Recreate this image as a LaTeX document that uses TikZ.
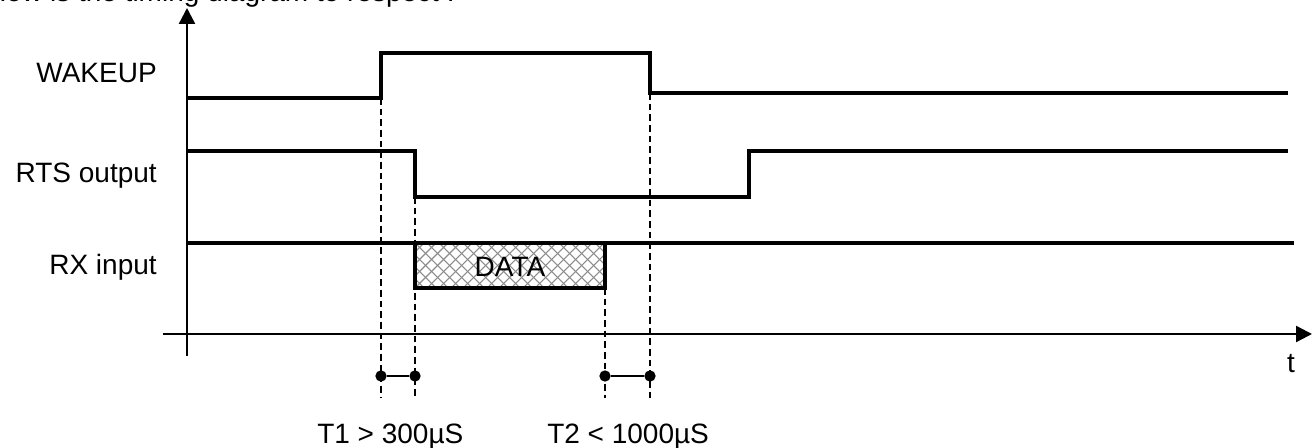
\documentclass[tikz,border=0pt]{standalone}
\usepackage{fontspec}
\setmainfont{Liberation Sans}
\usetikzlibrary{arrows.meta}
\begin{document}
\begin{tikzpicture}[x=0.75pt,y=-0.75pt,
  sig/.style={line width=2.3pt, line join=miter},
  axis/.style={line width=1.7pt, -{Triangle[length=12pt,width=12pt]}},
  guide/.style={line width=1.1pt, dash pattern=on 5pt off 3pt},
  hatch/.style={line width=0.8pt, black!45},
  lbl/.style={font=\fontsize{21}{25}\selectfont, inner sep=0pt},
  dot/.style={circle, fill, inner sep=0pt, minimum size=8.5pt},
  span/.style={line width=1.6pt}]
\useasboundingbox (0,0) rectangle (1316,448);

% heading line, partly above the page edge
\node[lbl, anchor=base west] (title) at (-14,2) {How is the timing diagram to respect :};

% axes
\coordinate (yb) at (187,356);
\coordinate (yt) at (187,8);
\coordinate (xl) at (163,334);
\coordinate (xr) at (1312,334);
\draw[axis] (yb) -- (yt);
\draw[axis] (xl) -- (xr);
\node[lbl, anchor=base] (tlab) at (1291,373) {t};

% signal names
\node[lbl, anchor=base east] (nwake) at (157,83) {WAKEUP};
\node[lbl, anchor=base east] (nrts) at (157,183) {RTS output};
\node[lbl, anchor=base east] (nrx) at (157,275) {RX input};

% WAKEUP
\coordinate (w0) at (187,98);
\coordinate (wr) at (381,98);
\coordinate (wf) at (650,93);
\coordinate (w1) at (1288,93);
\draw[sig] (w0) -- (wr) -- (381,53) -- (650,53) -- (wf) -- (w1);

% RTS output
\coordinate (r0) at (187,151);
\coordinate (rf) at (415,197);
\coordinate (r1) at (1288,151);
\draw[sig] (r0) -- (415,151) -- (rf) -- (749,197) -- (749,151) -- (r1);

% RX input with the DATA frame
\coordinate (d1) at (415,243);
\coordinate (d2) at (605,288);
\begin{scope}
  \clip (d1) rectangle (d2);
  \foreach \k in {-48,-36,...,192} {
    \draw[hatch] (415+\k,288) -- ++(45,-45);
    \draw[hatch] (415+\k,243) -- ++(45,45);
  }
\end{scope}
\draw[sig] (d1) rectangle (d2);
\coordinate (x0) at (187,243);
\coordinate (x1) at (1294,243);
\draw[sig] (x0) -- (x1);
\node[lbl] (data) at (510,267) {DATA};

% timing guides
\coordinate (g1) at (381,398);
\coordinate (g2) at (415,398);
\coordinate (g3) at (605,398);
\coordinate (g4) at (650,398);
\draw[guide] (wr) -- (g1);
\draw[guide] (rf) -- (g2);
\draw[guide] (605,288) -- (g3);
\draw[guide] (wf) -- (g4);

% intervals
\node[dot] (a1) at (381,376) {};
\node[dot] (a2) at (415,376) {};
\node[dot] (b1) at (605,376) {};
\node[dot] (b2) at (650,376) {};
\draw[span] (a1) -- (a2);
\draw[span] (b1) -- (b2);
\node[lbl, anchor=base west] (t1) at (317,443) {T1 > 300µS};
\node[lbl, anchor=base west] (t2) at (547,443) {T2 < 1000µS};
\end{tikzpicture}
\end{document}
